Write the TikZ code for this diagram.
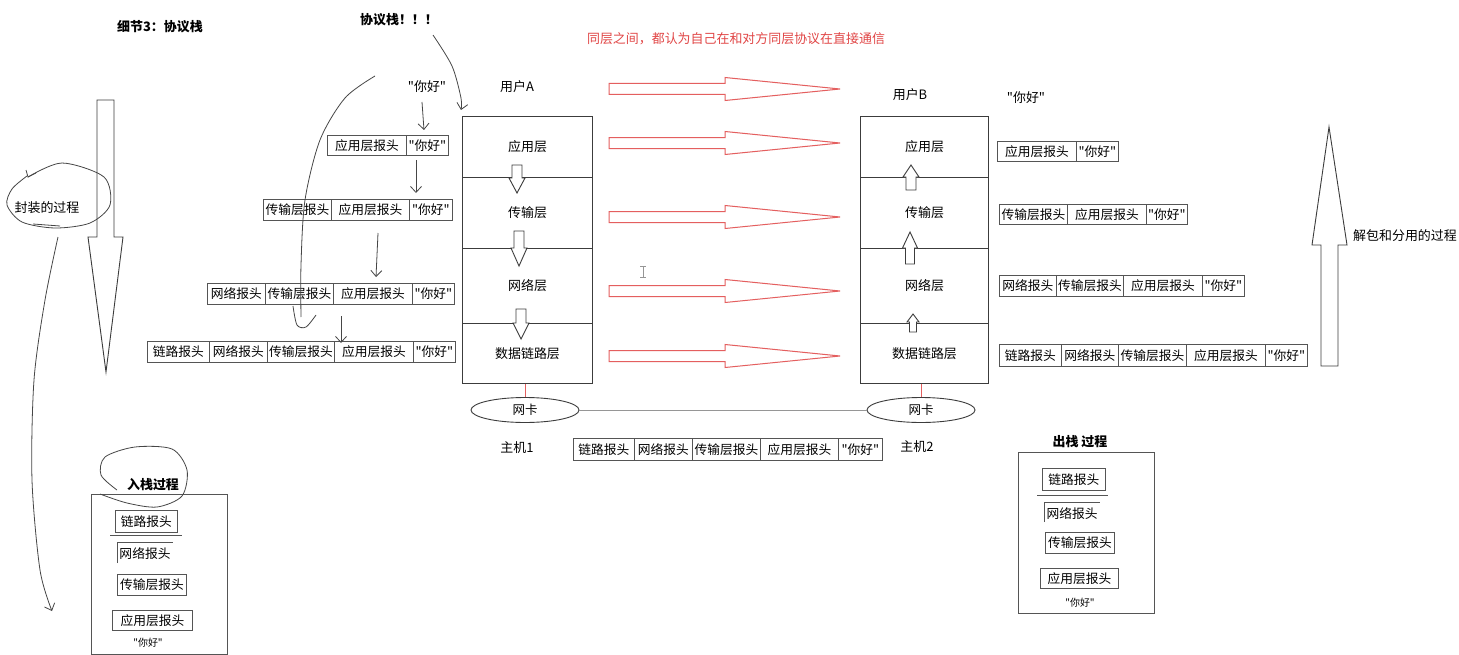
\documentclass[tikz,border=0pt]{standalone}
\usepackage{fontspec}
\setmainfont{Noto Sans CJK SC}[Ligatures=TeXOff]
\usetikzlibrary{arrows.meta,shapes.geometric}
\definecolor{ln}{RGB}{60,60,60}
\definecolor{hd}{RGB}{85,85,85}
\definecolor{hand}{RGB}{70,70,70}
\definecolor{rd}{RGB}{228,95,95}
\definecolor{rt}{RGB}{225,70,70}
\definecolor{lk}{RGB}{150,150,150}
\tikzset{
  hdr/.style={draw=hd, line width=0.9bp, inner sep=0pt, font=\fontsize{12.8}{14}\selectfont},
  layer/.style={draw=ln, line width=1.1bp, inner sep=0pt, font=\fontsize{13}{15}\selectfont, anchor=north west},
  lbl/.style={inner sep=0pt, font=\fontsize{13}{15}\selectfont},
  ttl/.style={inner sep=0pt, font=\fontsize{13}{15}\selectfont\bfseries},
  blkst/.style={draw=ln, line width=0.9bp, fill=white},
  rdst/.style={draw=rd, line width=1bp},
  handst/.style={draw=hand, line width=0.8bp},
  barb/.style={-{Straight Barb[length=6bp,width=11bp]}},
}
\newcommand\hbx[6]{\node[hdr,anchor=north west,minimum width={#4bp-#2bp},minimum height={#5bp-#3bp}] (#1) at (#2,#3) {#6};}
\newcommand\blk[6]{\draw[blkst] ({#1-#5},#2) -- ({#1+#5},#2) -- ({#1+#5},#3) -- ({#1+#6},#3) -- (#1,#4) -- ({#1-#6},#3) -- ({#1-#5},#3) -- cycle;}
\newcommand\rarr[1]{\draw[rdst] (609,{#1-5.5}) -- (725,{#1-5.5}) -- (725,{#1-11.5}) -- (840,#1) -- (725,{#1+11.5}) -- (725,{#1+5.5}) -- (609,{#1+5.5}) -- cycle;}
\newcommand\nh{"你好"}
\begin{document}
\begin{tikzpicture}[x=1bp,y=-1bp]
\useasboundingbox[fill=white] (0,0) rectangle (1459,655);

% titles
\node[ttl] (t1) at (160,27) {细节3：协议栈};
\node[ttl] (t2) at (399,20) {协议栈！！！};
\node[lbl, text=rt] (t3) at (736,39) {同层之间，都认为自己在和对方同层协议在直接通信};

% left stack
\node[lbl] (ua) at (517,87) {用户A};
\node[layer, minimum width=130bp, minimum height=61bp] (a1) at (462,116) {应用层};
\node[layer, minimum width=130bp, minimum height=71bp] (a2) at (462,177) {传输层};
\node[layer, minimum width=130bp, minimum height=75bp] (a3) at (462,248) {网络层};
\node[layer, minimum width=130bp, minimum height=60bp] (a4) at (462,323) {数据链路层};

% right stack
\node[lbl] (ub) at (910,95) {用户B};
\node[layer, minimum width=128bp, minimum height=61bp] (b1) at (860,116) {应用层};
\node[layer, minimum width=128bp, minimum height=71bp] (b2) at (860,177) {传输层};
\node[layer, minimum width=128bp, minimum height=75bp] (b3) at (860,248) {网络层};
\node[layer, minimum width=128bp, minimum height=60bp] (b4) at (860,323) {数据链路层};

% small block arrows
\blk{517}{165}{178}{193}{5}{8}
\blk{519}{231}{248}{266}{5}{8}
\blk{521}{309}{323}{339}{5}{8}
\blk{911}{190}{177}{165}{5}{8}
\blk{910}{264}{248}{232}{4.5}{7.5}
\blk{913}{332}{322}{314}{3.5}{6}

% red arrows
\foreach \yy in {89,143,217,291,356} {\rarr{\yy}}

% NICs
\node[ellipse, draw=ln, line width=0.9bp, minimum width=108bp, minimum height=25bp, inner sep=0pt, font=\fontsize{12.5}{14}\selectfont] (n1) at (525,410) {网卡};
\node[ellipse, draw=ln, line width=0.9bp, minimum width=108bp, minimum height=25bp, inner sep=0pt, font=\fontsize{12.5}{14}\selectfont] (n2) at (921,410) {网卡};
\draw[draw=rd, line width=1bp] (n1.north) -- (n1.north |- a4.south);
\draw[draw=rd, line width=1bp] (n2.north) -- (n2.north |- b4.south);
\draw[draw=lk, line width=1bp] (n1.east) -- (n2.west);
\node[lbl] (h1) at (517,448) {主机1};
\node[lbl] (h2) at (917,447) {主机2};

% bottom middle frame
\hbx{m1}{573}{438}{634}{460}{链路报头}
\hbx{m2}{634}{438}{692}{460}{网络报头}
\hbx{m3}{692}{438}{760}{460}{传输层报头}
\hbx{m4}{760}{438}{838}{460}{应用层报头}
\hbx{m5}{838}{438}{882}{460}{\nh}

% left headers
\node[lbl] (q0) at (427,87) {\nh};
\hbx{l11}{327}{135}{406}{155}{应用层报头}
\hbx{l12}{406}{135}{448}{155}{\nh}
\hbx{l21}{263}{199}{331}{220}{传输层报头}
\hbx{l22}{331}{199}{409}{220}{应用层报头}
\hbx{l23}{409}{199}{452}{220}{\nh}
\hbx{l31}{207}{283}{265}{304}{网络报头}
\hbx{l32}{265}{283}{333}{304}{传输层报头}
\hbx{l33}{333}{283}{412}{304}{应用层报头}
\hbx{l34}{412}{283}{454}{304}{\nh}
\hbx{l41}{147}{341}{209}{362}{链路报头}
\hbx{l42}{209}{341}{267}{362}{网络报头}
\hbx{l43}{267}{341}{334}{362}{传输层报头}
\hbx{l44}{334}{341}{413}{362}{应用层报头}
\hbx{l45}{413}{341}{455}{362}{\nh}

% right headers
\node[lbl] (q1) at (1026,98) {\nh};
\hbx{r11}{997}{141}{1076}{161}{应用层报头}
\hbx{r12}{1076}{141}{1118}{161}{\nh}
\hbx{r21}{999}{204}{1067}{224}{传输层报头}
\hbx{r22}{1067}{204}{1146}{224}{应用层报头}
\hbx{r23}{1146}{204}{1187}{224}{\nh}
\hbx{r31}{999}{275}{1056}{296}{网络报头}
\hbx{r32}{1056}{275}{1123}{296}{传输层报头}
\hbx{r33}{1123}{275}{1202}{296}{应用层报头}
\hbx{r34}{1202}{275}{1244}{296}{\nh}
\hbx{r41}{999}{344}{1061}{366}{链路报头}
\hbx{r42}{1061}{344}{1118}{366}{网络报头}
\hbx{r43}{1118}{344}{1186}{366}{传输层报头}
\hbx{r44}{1186}{344}{1265}{366}{应用层报头}
\hbx{r45}{1265}{344}{1307}{366}{\nh}

% big arrows
\draw[blkst] (97,100) -- (114,100) -- (114,237) -- (123,237) -- (106,372) -- (88,237) -- (97,237) -- cycle;
\draw[blkst] (1321,366) -- (1338,366) -- (1338,245) -- (1347,245) -- (1329,127) -- (1312,245) -- (1321,245) -- cycle;
\node[lbl] (enc) at (47,208) {封装的过程};
\node[lbl] (dec) at (1405,236) {解包和分用的过程};

% hand drawn strokes (left)
\draw[handst] plot[smooth] coordinates {(28,177) (62,163) (104,177) (110,205) (90,223) (55,228) (22,222) (7,205) (12,189) (27,176)};
\draw[handst] (26,170) -- (28,177) -- (36,173);
\draw[handst] (33,224) -- (60,226);
\draw[handst, barb] plot[smooth] coordinates {(58,237) (45,300) (34,380) (32,480) (40,570) (52,611)};

% hand drawn strokes (near left stack)
\draw[handst, barb] plot[smooth] coordinates {(433,35) (452,66) (461,98) (461,110)};
\draw[handst] plot[smooth] coordinates {(375,76) (345,98) (320,140) (305,200) (301,265) (301,317)};
\draw[handst] plot[smooth] coordinates {(293,306) (297,325) (306,327) (316,315)};
\coordinate (qa) at (422,102);
\coordinate (qb) at (416,160);
\draw[handst, barb] (qa) -- (424,130);
\draw[handst, barb] (qb) -- (416,193);
\draw[handst, barb] plot[smooth] coordinates {(378,233) (377,255) (376,277)};
\draw[handst, barb] (341,316) -- (341,343);

% cursor
\draw[draw=lk, line width=0.8bp] (643,266) -- (643,277) (640,266) -- (646,266) (640,277) -- (646,277);

% bottom-left box
\draw[draw=hd, line width=0.9bp] (91,494) rectangle (227,654);
\node[ttl] (in) at (153,485) {入栈过程};
\draw[handst] plot[smooth] coordinates {(117,490) (101,475) (105,457) (135,447) (172,449) (187,470) (182,496) (157,507) (127,503) (100,494)};
\hbx{p1}{115}{510}{177}{532}{链路报头}
\draw[draw=hd, line width=0.9bp] (110,535) -- (182,535);
\node[lbl, font=\fontsize{12.8}{14}\selectfont] (p2) at (145,554) {网络报头};
\draw[draw=hd, line width=0.9bp] (117,563) -- (117,542) -- (173,542);
\hbx{p3}{117}{574}{186}{595}{传输层报头}
\hbx{p4}{112}{610}{192}{630}{应用层报头}
\node[lbl, font=\fontsize{10}{12}\selectfont] (p5) at (148,643) {\nh};

% bottom-right box
\draw[draw=hd, line width=0.9bp] (1018,452) rectangle (1154,613);
\node[ttl] (out) at (1080,442) {出栈 过程};
\hbx{o1}{1042}{468}{1105}{490}{链路报头}
\draw[draw=hd, line width=0.9bp] (1037,495) -- (1108,495);
\node[lbl, font=\fontsize{12.8}{14}\selectfont] (o2) at (1072,514) {网络报头};
\draw[draw=hd, line width=0.9bp] (1044,522) -- (1044,502) -- (1100,502);
\hbx{o3}{1045}{532}{1114}{553}{传输层报头}
\hbx{o4}{1040}{568}{1118}{588}{应用层报头}
\node[lbl, font=\fontsize{10}{12}\selectfont] (o5) at (1080,603) {\nh};
\end{tikzpicture}
\end{document}
